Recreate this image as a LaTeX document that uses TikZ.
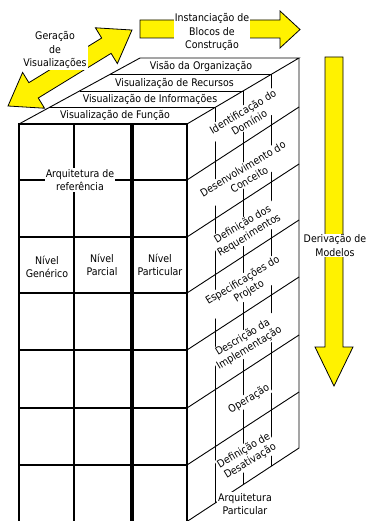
\documentclass[tikz,border=0pt]{standalone}
\usepackage{fontspec}
\setmainfont{DejaVu Sans Condensed}
\begin{document}
\begin{tikzpicture}[x=1pt,y=-1pt,
  lbl/.style={font=\fontsize{10.5}{13.5}\selectfont, align=center, inner sep=1pt},
  whitelbl/.style={lbl, fill=white},
  sidelbl/.style={whitelbl, rotate=31, font=\fontsize{10.5}{12.5}\selectfont},
  gridline/.style={line width=1.2pt},
  thinline/.style={line width=0.9pt},
  yarrow/.style={fill=yellow, draw=black, line width=0.8pt, line join=miter}]
\useasboundingbox (0,0) rectangle (368,521);

% ---------- yellow arrows ----------
% double arrow: generation of views
\begin{scope}[shift={(8,106)}, rotate=31.5]
  \draw[yarrow] (0,0) -- (30,21) -- (30,9) -- (115.4,9) -- (115.4,21) -- (145.4,0)
    -- (115.4,-21) -- (115.4,-9) -- (30,-9) -- (30,-21) -- cycle;
\end{scope}
\node[whitelbl] (geracao) at (55,50) {Geração\\de\\Visualizações};

% right arrow: instantiation of building blocks
\draw[yarrow] (140,20) -- (280,20) -- (280,11) -- (300,29.5) -- (280,48) -- (280,38) -- (140,38) -- cycle;
\node[whitelbl] (instancia) at (212,32) {Instanciação de\\Blocos de\\Construção};

% down arrow: derivation of models
\draw[yarrow] (325,57) -- (343,57) -- (343,347) -- (353,347) -- (334,386) -- (315,347) -- (325,347) -- cycle;
\node[whitelbl] (derivacao) at (335,245.5) {Derivação de\\Modelos};

% ---------- cube corners ----------
\coordinate (FTL) at (19,124);
\coordinate (FTR) at (187,124);
\coordinate (FBL) at (19,521.5);
\coordinate (FBR) at (187,521.5);
\coordinate (BTL) at (140,58);
\coordinate (BTR) at (299,58);
\coordinate (BBR) at (299,448);

% ---------- top face ----------
\draw[thinline] (FTL) -- (BTL) -- (BTR) -- (FTR);
\draw[thinline] (49.25,107.5) -- (215,107.5);
\draw[thinline] (79.5,91) -- (243,91);
\draw[thinline] (109.75,74.5) -- (271,74.5);
\node[lbl] (vorg) at (201,66.5) {Visão da Organização};
\node[lbl] (vrec) at (174.5,83) {Visualização de Recursos};
\node[lbl] (vinf) at (150,99) {Visualização de Informações};
\node[lbl] (vfun) at (115,115.5) {Visualização de Função};

% ---------- side face ----------
\draw[thinline] (BTR) -- (BBR) -- (FBR);
\foreach \x/\yt/\yb in {215/107.5/503.2, 243/91/484.8, 271/74.5/466.3}
  \draw[thinline] (\x,\yt) -- (\x,\yb);
\node[sidelbl] (s1) at (246,117) {Identificação do\\Domínio};
\node[sidelbl] (s2) at (246,174) {Desenvolvimento do\\Conceito};
\node[sidelbl] (s3) at (246,230) {Definição dos\\Requerimentos};
\node[sidelbl] (s4) at (246,286) {Especificações do\\Projeto};
\node[sidelbl] (s5) at (246,343) {Descrição da\\Implementação};
\node[sidelbl] (s6) at (249,399) {Operação};
\node[sidelbl] (s7) at (247,456) {Definição de\\Desativação};
\foreach \y in {180,237,293,350,408,465}
  \draw[thinline] (187,\y) -- (299,\y-73);
\node[whitelbl] (apart) at (245,504) {Arquitetura\\Particular};

% ---------- front face ----------
\foreach \y in {180,237,293,350,408,465}
  \draw[gridline] (19,\y) -- (187,\y);
\draw[gridline] (74,124) -- (74,521.5);
\draw[line width=4pt] (132,124) -- (132,521.5);
\draw[gridline] (FTL) rectangle (FBR);
\node[whitelbl] (aref) at (80,180) {Arquitetura de\\referência};
\node[lbl] (ngen) at (47,267) {Nível\\Genérico};
\node[lbl] (npar) at (102,265) {Nível\\Parcial};
\node[lbl] (npart) at (160,265) {Nível\\Particular};
\end{tikzpicture}
\end{document}
